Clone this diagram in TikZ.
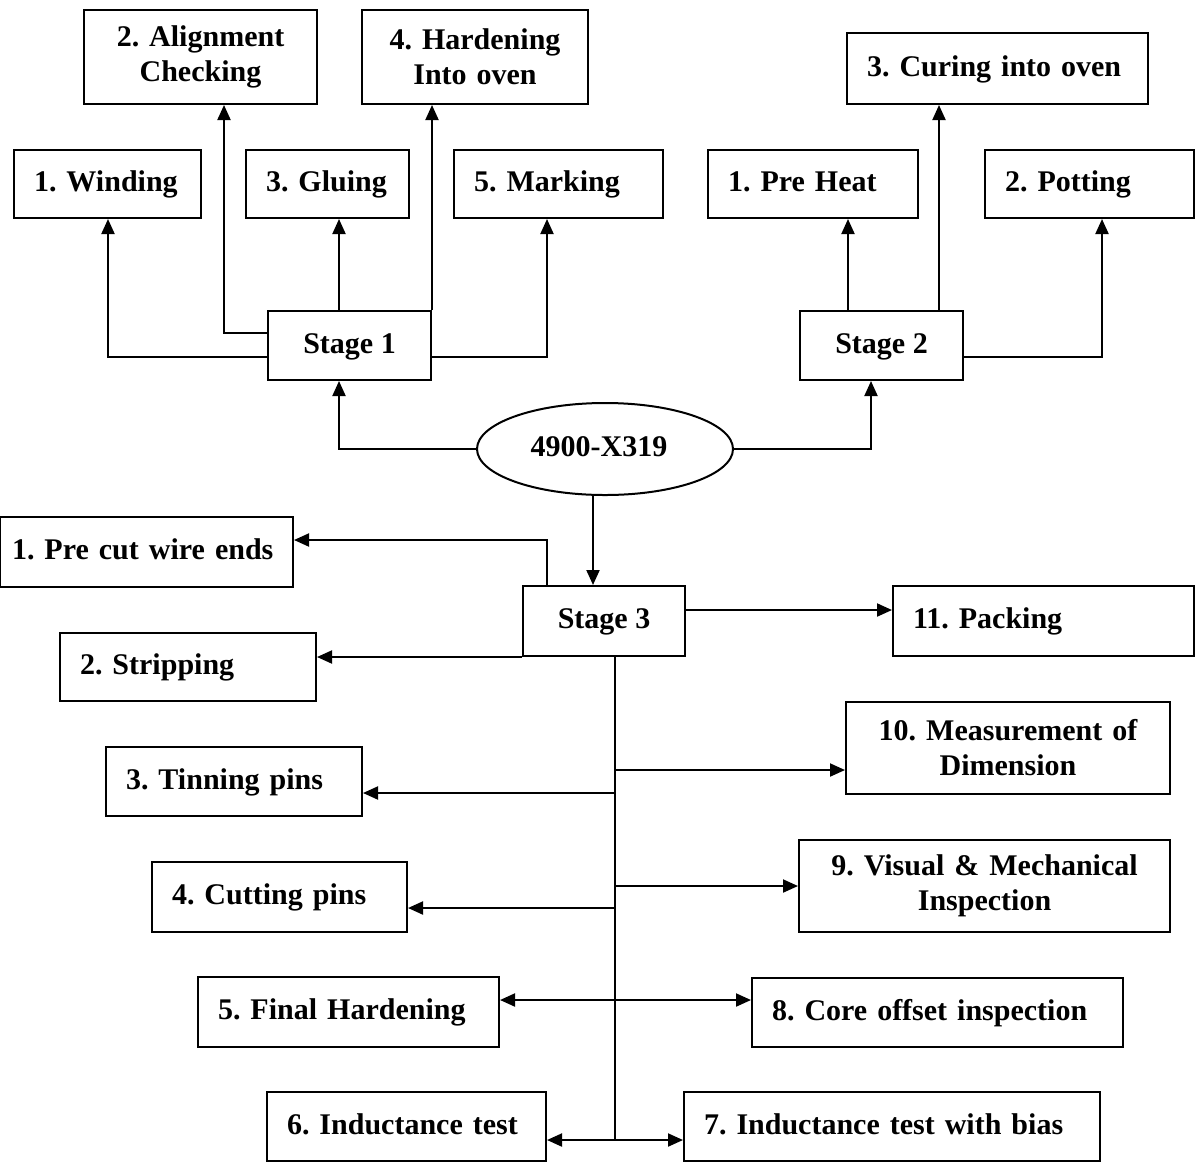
\documentclass[tikz,border=0pt]{standalone}
\usepackage{fontspec}
\setmainfont{Liberation Serif}
\usetikzlibrary{arrows.meta,shapes.geometric}
\frenchspacing

\begin{document}
\begin{tikzpicture}[
  x=0.5pt, y=-0.5pt,
  lbl/.style={font=\bfseries\fontsize{15}{17.5}\selectfont},
  box/.style={lbl, draw, line width=1pt, rectangle, inner xsep=10pt, inner ysep=0pt},
  one/.style={text height=11pt, text depth=3.5pt},
  oval/.style={lbl, draw, line width=1pt, ellipse, inner sep=0pt},
  link/.style={line width=1pt},
  arr/.style={line width=1pt, -{Triangle[length=7.5pt,width=6.5pt]}},
  biarr/.style={line width=1pt, {Triangle[length=7.5pt,width=6.5pt]}-{Triangle[length=7.5pt,width=6.5pt]}}
]
\useasboundingbox (0,0) rectangle (1197,1162);

% ---- stage 1 operations ----
\node[box, minimum width=116.5pt, minimum height=47pt, text width=96.5pt, align=center] (a2) at (200.5,57) {2. Alignment\\Checking};
\node[box, minimum width=113pt, minimum height=47pt, text width=93pt, align=center] (a4) at (475,57) {4. Hardening\\Into oven};
\node[box, one, minimum width=93.5pt, minimum height=34pt, text width=73.5pt, align=left] (a1) at (107.5,184) {1. Winding};
\node[box, one, minimum width=81.5pt, minimum height=34pt, text width=61.5pt, align=left] (a3) at (327.5,184) {3. Gluing};
\node[box, one, minimum width=104.5pt, minimum height=34pt, text width=84.5pt, align=left] (a5) at (558.5,184) {5. Marking};

% ---- stage 2 operations ----
\node[box, one, minimum width=150.5pt, minimum height=35.5pt, text width=130.5pt, align=left] (c3) at (997.5,68.5) {3. Curing into oven};
\node[box, one, minimum width=105pt, minimum height=34pt, text width=85pt, align=left] (b1) at (813,184) {1. Pre Heat};
\node[box, one, minimum width=104.5pt, minimum height=34pt, text width=84.5pt, align=left] (b2) at (1089.5,184) {2. Potting};

% ---- stages and product ----
\node[box, one, minimum width=81.5pt, minimum height=34.5pt, align=center] (s1) at (349.5,345.5) {Stage 1};
\node[box, one, minimum width=81.5pt, minimum height=34.5pt, align=center] (s2) at (881.5,345.5) {Stage 2};
\node[oval, one, minimum width=128pt, minimum height=46pt] (e) at (605,449) {4900-X319\hspace*{6pt}};
\node[box, one, minimum width=81pt, minimum height=35pt, align=center] (s3) at (604,621) {Stage 3};

% ---- stage 3 operations, left column ----
\node[box, one, inner xsep=6pt, minimum width=146.5pt, minimum height=35pt, text width=134.5pt, align=left] (p1) at (146.5,552) {1. Pre cut wire ends};
\node[box, one, minimum width=128pt, minimum height=34pt, text width=108pt, align=left] (p2) at (188,667) {2. Stripping};
\node[box, one, minimum width=128pt, minimum height=34.5pt, text width=108pt, align=left] (p3) at (234,781.5) {3. Tinning pins};
\node[box, one, minimum width=127.5pt, minimum height=35pt, text width=107.5pt, align=left] (p4) at (279.5,897) {4. Cutting pins};
\node[box, one, minimum width=150.5pt, minimum height=35pt, text width=130.5pt, align=left] (p5) at (348.5,1012) {5. Final Hardening};
\node[box, one, minimum width=139.5pt, minimum height=34.5pt, text width=119.5pt, align=left] (p6) at (406.5,1126.5) {6. Inductance test};

% ---- stage 3 operations, right column ----
\node[box, one, minimum width=150.5pt, minimum height=35pt, text width=130.5pt, align=left] (p11) at (1043.5,621) {11. Packing};
\node[box, minimum width=162pt, minimum height=46pt, text width=142pt, align=center] (p10) at (1008,748) {10. Measurement of\\Dimension};
\node[box, minimum width=185.5pt, minimum height=46pt, text width=165.5pt, align=center] (p9) at (984.5,886) {9. Visual \& Mechanical\\Inspection};
\node[box, one, minimum width=185.5pt, minimum height=34.5pt, text width=165.5pt, align=left] (p8) at (937.5,1012.5) {8. Core offset inspection};
\node[box, one, minimum width=208pt, minimum height=34.5pt, text width=188pt, align=left] (p7) at (892,1126.5) {7. Inductance test with bias};

% ---- routing points ----
\coordinate (k1) at (108,357);
\coordinate (k2) at (224,333);
\coordinate (k3) at (339,0);
\coordinate (k5) at (547,357);
\coordinate (m1) at (848,0);
\coordinate (m3) at (939,0);
\coordinate (m2) at (1102,357);
\coordinate (n1) at (339,449);
\coordinate (n2) at (871,449);
\coordinate (n3) at (593,0);
\coordinate (q1) at (547,540);
\coordinate (q11) at (0,610);
\coordinate (tr) at (615,0);
\coordinate (tEnd) at (615,1140);
\coordinate (j10) at (615,770);
\coordinate (j3) at (615,793);
\coordinate (j9) at (615,886);
\coordinate (j4) at (615,908);
\coordinate (j58) at (615,1000);
\coordinate (j67) at (615,1140);

% ---- stage 1 connectors ----
\draw[arr] (s1.west |- k1) -| (a1.south -| k1);
\draw[arr] (s1.west |- k2) -| (a2.south -| k2);
\draw[arr] (s1.north -| k3) -- (a3.south -| k3);
\draw[arr] (s1.north east) -- (a4.south -| s1.north east);
\draw[arr] (s1.east |- k5) -| (a5.south -| k5);

% ---- stage 2 connectors ----
\draw[arr] (s2.north -| m1) -- (b1.south -| m1);
\draw[arr] (s2.north -| m3) -- (c3.south -| m3);
\draw[arr] (s2.east |- m2) -| (b2.south -| m2);

% ---- product to stages ----
\draw[arr] (e.west) -| (s1.south -| n1);
\draw[arr] (e.east) -| (s2.south -| n2);
\draw[arr] (e.south -| n3) -- (s3.north -| n3);

% ---- stage 3 connectors ----
\draw[arr] (s3.north -| q1) |- (p1.east |- q1);
\draw[arr] (s3.south west) -- (p2.east |- s3.south west);
\draw[arr] (s3.east |- q11) -- (p11.west |- q11);
\draw[link] (s3.south -| tr) -- (tEnd);
\draw[arr] (j10) -- (p10.west |- j10);
\draw[arr] (j3) -- (p3.east |- j3);
\draw[arr] (j9) -- (p9.west |- j9);
\draw[arr] (j4) -- (p4.east |- j4);
\draw[biarr] (p5.east |- j58) -- (p8.west |- j58);
\draw[biarr] (p6.east |- j67) -- (p7.west |- j67);
\end{tikzpicture}
\end{document}
